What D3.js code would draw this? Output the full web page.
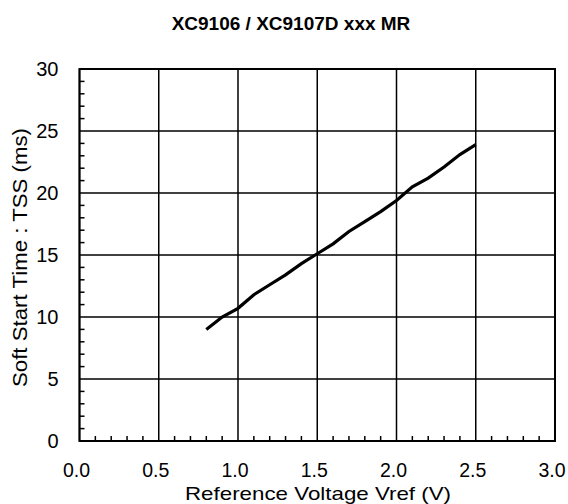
<!DOCTYPE html>
<meta charset="utf-8">
<script src="https://d3js.org/d3.v7.min.js"></script>
<style>
  body { margin: 0; background: #fff; }
  text { font-family: "Liberation Sans", Arial, sans-serif; fill: #000; }
</style>
<div id="chart"></div>
<script>
  // data
  var vref = [0.8, 0.9, 1.0, 1.1, 1.2, 1.3, 1.4, 1.5, 1.6, 1.7, 1.8, 1.9, 2.0, 2.1, 2.2, 2.3, 2.4, 2.5];
  var tss  = [9.0, 10.0, 10.7, 11.8, 12.6, 13.4, 14.3, 15.1, 15.9, 16.9, 17.7, 18.5, 19.4, 20.5, 21.2, 22.1, 23.1, 23.9];
  var xTicks = [0, 0.5, 1.0, 1.5, 2.0, 2.5, 3.0];
  var yTicks = [0, 5, 10, 15, 20, 25, 30];

  var W = 568, H = 504;
  var margin = {top: 69, right: 13, bottom: 63, left: 79.5},
      width = W - margin.left - margin.right,
      height = H - margin.top - margin.bottom;

  var svg = d3.select("#chart").append("svg")
      .attr("width", W).attr("height", H);
  var g = svg.append("g")
      .attr("transform", "translate(" + margin.left + "," + margin.top + ")");

  var x = d3.scaleLinear().domain([0, 3]).range([0, width]);
  var y = d3.scaleLinear().domain([0, 30]).range([height, 0]);

  // grid
  g.selectAll(".vgrid").data(xTicks).enter().append("line")
    .attr("x1", function(d) { return x(d); }).attr("x2", function(d) { return x(d); })
    .attr("y1", 0).attr("y2", height)
    .attr("stroke", "#000").attr("stroke-width", 1.5);
  g.selectAll(".hgrid").data(yTicks).enter().append("line")
    .attr("y1", function(d) { return y(d); }).attr("y2", function(d) { return y(d); })
    .attr("x1", 0).attr("x2", width)
    .attr("stroke", "#000").attr("stroke-width", 1.5);

  // minor ticks
  var xMinor = d3.range(0, 31).map(function(i) { return i / 10; }).filter(function(d, i) { return i % 5 != 0; });
  var yMinor = d3.range(0, 31).filter(function(d) { return d % 5 != 0; });
  g.selectAll(".xminor").data(xMinor).enter().append("line")
    .attr("x1", function(d) { return x(d); }).attr("x2", function(d) { return x(d); })
    .attr("y1", height).attr("y2", height - 5)
    .attr("stroke", "#000").attr("stroke-width", 1.5);
  g.selectAll(".yminor").data(yMinor).enter().append("line")
    .attr("y1", function(d) { return y(d); }).attr("y2", function(d) { return y(d); })
    .attr("x1", 0).attr("x2", 5)
    .attr("stroke", "#000").attr("stroke-width", 1.5);

  // frame
  g.append("rect").attr("width", width).attr("height", height)
    .attr("fill", "none").attr("stroke", "#000").attr("stroke-width", 2);

  // tick labels
  g.selectAll(".xlab").data(xTicks).enter().append("text")
    .attr("x", function(d) { return x(d) - 3; })
    .attr("y", height + 36)
    .attr("text-anchor", "middle")
    .style("font-size", "19.5px")
    .text(function(d) { return d3.format(".1f")(d); });
  g.selectAll(".ylab").data(yTicks).enter().append("text")
    .attr("x", -21)
    .attr("y", function(d) { return y(d) + 7; })
    .attr("text-anchor", "end")
    .style("font-size", "20px")
    .text(function(d) { return d; });

  // curve
  var pts = vref.map(function(v, i) { return [v, tss[i]]; });
  g.append("path").datum(pts)
    .attr("fill", "none").attr("stroke", "#000").attr("stroke-width", 3.2)
    .attr("d", d3.line().x(function(d) { return x(d[0]); }).y(function(d) { return y(d[1]); }));

  // title
  svg.append("text")
    .attr("x", 291).attr("y", 30)
    .attr("text-anchor", "middle")
    .style("font-size", "19px").style("font-weight", "bold")
    .text("XC9106 / XC9107D xxx MR");

  // axis labels
  svg.append("text")
    .attr("x", 318).attr("y", 499.5)
    .attr("text-anchor", "middle")
    .attr("textLength", 266).attr("lengthAdjust", "spacingAndGlyphs")
    .style("font-size", "19px")
    .text("Reference Voltage Vref (V)");
  svg.append("text")
    .attr("transform", "translate(27,257.5)rotate(-90)")
    .attr("text-anchor", "middle")
    .attr("textLength", 259).attr("lengthAdjust", "spacingAndGlyphs")
    .style("font-size", "21px")
    .text("Soft Start Time : TSS (ms)");
</script>
